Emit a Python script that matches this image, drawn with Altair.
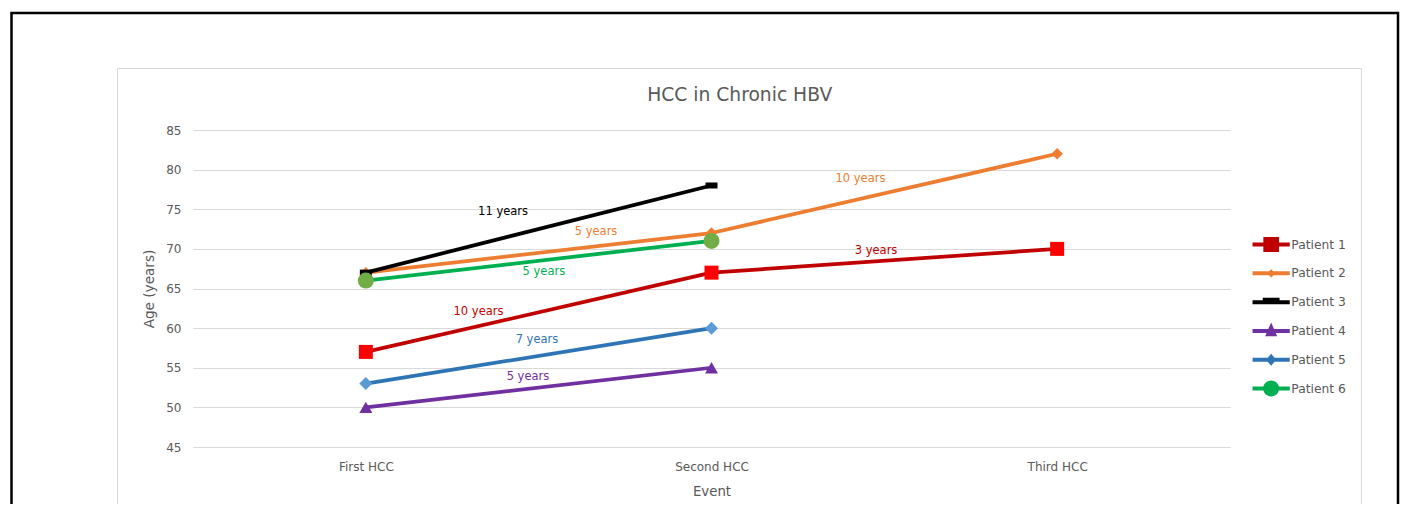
import altair as alt
import pandas as pd

FONT = "DejaVu Sans"
GRAY = "#595959"

# ---------------- data ----------------
event_names = ["First HCC", "Second HCC", "Third HCC"]
patient_names = ["Patient 1", "Patient 2", "Patient 3", "Patient 4", "Patient 5", "Patient 6"]
patient_1_ages = [57, 67, 70]
patient_2_ages = [67, 72, 82]
patient_3_ages = [67, 78]
patient_4_ages = [50, 55]
patient_5_ages = [53, 60]
patient_6_ages = [66, 71]

annotation_texts = ["11 years", "5 years", "5 years", "10 years", "7 years", "5 years", "10 years", "3 years"]
annotation_patients = ["Patient 3", "Patient 2", "Patient 6", "Patient 1", "Patient 5", "Patient 4", "Patient 2", "Patient 1"]
annotation_event_pos = [0.397, 0.666, 0.515, 0.326, 0.495, 0.469, 1.431, 1.476]
annotation_ages = [74.65, 72.13, 67.08, 62.03, 58.5, 53.83, 78.82, 69.77]

y_ticks = [45, 50, 55, 60, 65, 70, 75, 80, 85]

# ---------------- styles ----------------
line_colors = ["#C00000", "#ED7D31", "#000000", "#7030A0", "#2E75B6", "#00B050"]
marker_colors = ["#FF0000", "#ED7D31", "#000000", "#7030A0", "#5B9BD5", "#70AD47"]
marker_shapes = ["square", "diamond", "M-1,-0.5L1,-0.5L1,0.5L-1,0.5Z", "triangle-up", "diamond", "circle"]
marker_sizes = [196, 130, 144, 169, 169, 256]

LINE = "M0,-1.6M0,1.6M-3.1,-0.33L3.1,-0.33L3.1,0.33L-3.1,0.33Z"
legend_shapes = [
    LINE + "M-1.3,-1.25L1.3,-1.25L1.3,1.25L-1.3,1.25Z",
    LINE + "M0,-0.7L0.7,0L0,0.7L-0.7,0Z",
    LINE + "M-1.4,-0.75L1.4,-0.75L1.4,0.33L-1.4,0.33Z",
    LINE + "M0,-1.4L1,0.9L-1,0.9Z",
    LINE + "M0,-1L0.85,0L0,1L-0.85,0Z",
    LINE + "M-1.33,0A1.33,1.33 0 1,1 1.33,0A1.33,1.33 0 1,1 -1.33,0Z",
]

series = [patient_1_ages, patient_2_ages, patient_3_ages, patient_4_ages, patient_5_ages, patient_6_ages]
rows = []
for name, ages in zip(patient_names, series):
    for i, a in enumerate(ages):
        rows.append({"patient": name, "event": i, "age": a})
df = pd.DataFrame(rows)

ann = pd.DataFrame({
    "text": annotation_texts,
    "patient": annotation_patients,
    "event": annotation_event_pos,
    "age": annotation_ages,
})

label_expr = "[" + ",".join("'%s'" % e for e in event_names) + "][datum.value]"

x_enc = alt.X(
    "event:Q",
    scale=alt.Scale(domain=[-0.5, 2.5], nice=False, zero=False),
    axis=alt.Axis(
        title="Event", values=[0, 1, 2], labelExpr=label_expr, grid=False,
        domain=False, ticks=False, tickSize=0, labelPadding=14, titlePadding=12,
        labelFont=FONT, titleFont=FONT, labelFontSize=12, titleFontSize=13.3,
        labelColor=GRAY, titleColor=GRAY, titleFontWeight="normal",
    ),
)
y_enc = alt.Y(
    "age:Q",
    scale=alt.Scale(domain=[45, 85], nice=False, zero=False),
    axis=alt.Axis(
        title="Age (years)", values=y_ticks, grid=True, gridColor="#D9D9D9", gridWidth=1,
        domain=False, ticks=False, tickSize=0, labelPadding=12, titlePadding=9,
        labelFont=FONT, titleFont=FONT, labelFontSize=12, titleFontSize=13.6,
        labelColor=GRAY, titleColor=GRAY, titleFontWeight="normal",
    ),
)

single = alt.Data(values=[{}])

outer_frame = alt.Chart(single).mark_rect(filled=False, stroke="black", strokeWidth=2.5).encode(
    x=alt.value(-181.5), x2=alt.value(1205), y=alt.value(-117), y2=alt.value(430)
)
inner_frame = alt.Chart(single).mark_rect(filled=False, stroke="#D9D9D9", strokeWidth=1).encode(
    x=alt.value(-75.5), x2=alt.value(1168.5), y=alt.value(-61.5), y2=alt.value(430)
)
title = alt.Chart(single).mark_text(
    text="HCC in Chronic HBV", font=FONT, fontSize=18.7, color=GRAY, baseline="middle"
).encode(x=alt.value(546.7), y=alt.value(-35))

base = alt.Chart(df)
lines = base.mark_line(strokeWidth=3.75, strokeJoin="round", strokeCap="round").encode(
    x=x_enc, y=y_enc,
    color=alt.Color("patient:N", scale=alt.Scale(domain=patient_names, range=line_colors), legend=None),
    order="event:Q",
)
points = base.mark_point(filled=True, opacity=1).encode(
    x=x_enc, y=y_enc,
    color=alt.Color("patient:N", scale=alt.Scale(domain=patient_names, range=marker_colors), legend=None),
    shape=alt.Shape("patient:N", scale=alt.Scale(domain=patient_names, range=marker_shapes), legend=None),
    size=alt.Size("patient:O", scale=alt.Scale(type="ordinal", domain=patient_names, range=marker_sizes), legend=None),
)
labels = alt.Chart(ann).mark_text(font=FONT, fontSize=11.5, baseline="middle").encode(
    x=x_enc, y=y_enc, text="text:N",
    color=alt.Color("patient:N", scale=alt.Scale(domain=patient_names, range=line_colors), legend=None),
)

legend_spec = alt.Legend(
    orient="none", legendX=1072, legendY=108.4, title=None, padding=0,
    labelFont=FONT, labelFontSize=12.3, labelColor=GRAY, labelOffset=14,
    symbolSize=144, symbolStrokeWidth=0, symbolOpacity=1, rowPadding=8.8,
)
legend_layer = base.transform_filter("datum.age > 1000").mark_point(filled=True, opacity=1).encode(
    x=x_enc, y=y_enc,
    color=alt.Color("patient:N", scale=alt.Scale(domain=patient_names, range=line_colors), legend=legend_spec),
    shape=alt.Shape("patient:N", scale=alt.Scale(domain=patient_names, range=legend_shapes), legend=legend_spec),
)

chart = alt.layer(
    outer_frame, inner_frame, title, lines, points, labels, legend_layer
).resolve_scale(
    color="independent", shape="independent", size="independent"
).properties(
    width=1037, height=317,
    autosize=alt.AutoSizeParams(type="none"),
    padding={"left": 185, "top": 122, "right": 170, "bottom": 57},
    background="white",
).configure_view(strokeWidth=0)

chart.save("out.html", embed_options={"renderer": "svg", "actions": False})
